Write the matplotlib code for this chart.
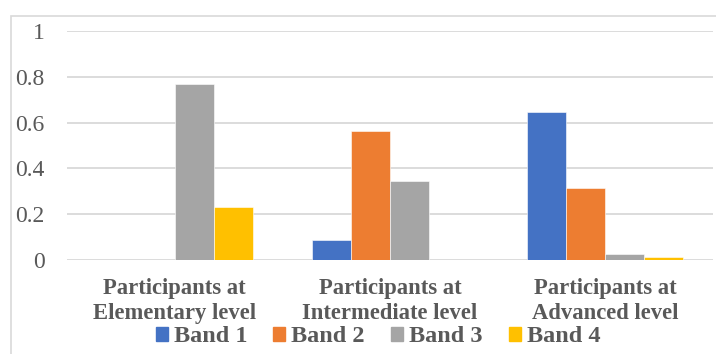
import matplotlib.pyplot as plt
import matplotlib.patches as mpatches
import matplotlib.transforms as mtransforms
import numpy as np

categories = [("Participants at", "Elementary level"),
              ("Participants at", "Intermediate level"),
              ("Participants at", "Advanced level")]
bands = ["Band 1", "Band 2", "Band 3", "Band 4"]
band1 = [0.0, 0.09, 0.645]
band2 = [0.0, 0.565, 0.315]
band3 = [0.77, 0.345, 0.027]
band4 = [0.233, 0.0, 0.013]
colors = ["#4472C4", "#ED7D31", "#A5A5A5", "#FFC000"]

plt.rcParams['font.family'] = ['Liberation Serif', 'DejaVu Serif']
txt = "#595959"
grid = "#D9D9D9"

fig = plt.figure(figsize=(7.16, 3.54), dpi=100)
W, H = 716, 354

# light frame around the chart area
fig.patches.append(mpatches.Rectangle((10.5 / W, -0.1), 1.1, (H - 16) / H + 0.1,
                                      transform=fig.transFigure, fill=False,
                                      edgecolor=grid, linewidth=1.2))

ax = fig.add_axes([67 / W, (H - 260.3) / H, (713 - 67) / W, 229.6 / H])

x = np.arange(len(categories))
w = 0.181
series = [band1, band2, band3, band4]
for i, vals in enumerate(series):
    ax.bar(x + (i - 1.5) * w, vals, w, color=colors[i], label=bands[i],
           edgecolor="white", linewidth=0.4, zorder=3)

ax.set_xlim(-0.5, 2.5)
ax.set_ylim(0, 1)
ax.set_yticks([0, 0.2, 0.4, 0.6, 0.8, 1])
ax.set_yticklabels(["0", "0.2", "0.4", "0.6", "0.8", "1"])
ax.yaxis.grid(True, color=grid, linewidth=1.3, zorder=0)
for s in ax.spines.values():
    s.set_visible(False)
ax.tick_params(axis="y", length=0, pad=16, labelsize=17, labelcolor=txt)
ax.set_xticks([])

# two-line category labels under each group
trans = mtransforms.blended_transform_factory(ax.transData, fig.transFigure)
for xi, (l1, l2) in zip(x, categories):
    ax.text(xi, (H - 294.3) / H, l1, transform=trans, ha="center", va="baseline",
            fontsize=16.3, fontweight="bold", color=txt)
    ax.text(xi, (H - 319.3) / H, l2, transform=trans, ha="center", va="baseline",
            fontsize=16.3, fontweight="bold", color=txt)

handles = [mpatches.Patch(color=c) for c in colors]
fig.legend(handles, bands, loc="center", bbox_to_anchor=(0.528, (H - 337) / H),
           ncol=4, frameon=False, handlelength=0.5, handleheight=0.55,
           handletextpad=0.25, columnspacing=1.07, borderpad=0,
           prop={"weight": "bold", "size": 17.5}, labelcolor=txt)

fig.savefig("out.png", dpi=100)
